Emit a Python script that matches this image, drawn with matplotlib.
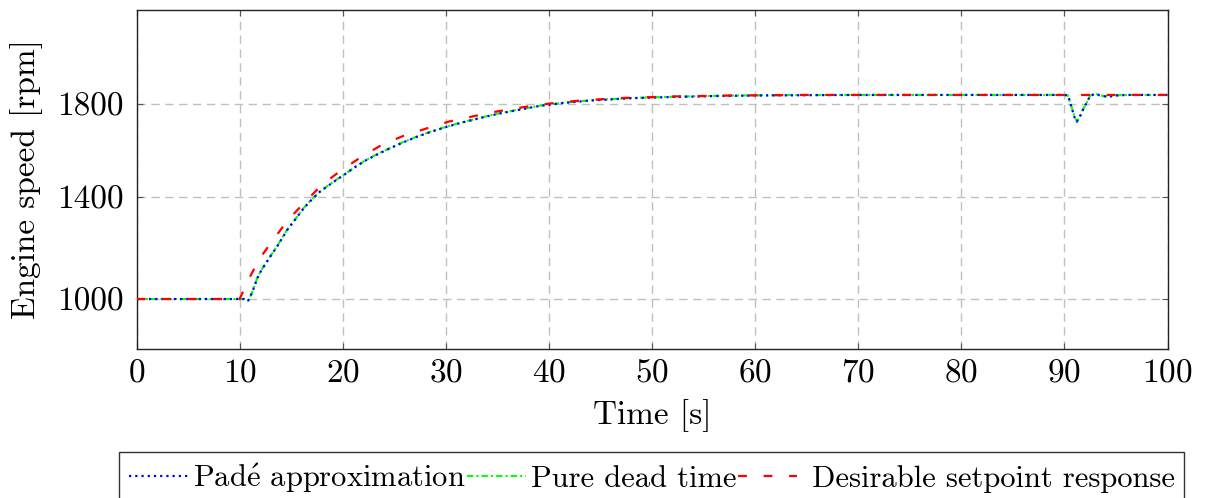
import matplotlib
matplotlib.use("Agg")
import matplotlib.pyplot as plt

plt.rcParams['font.family'] = ['cmr10', 'DejaVu Serif']
plt.rcParams['mathtext.fontset'] = 'cm'
plt.rcParams['axes.formatter.use_mathtext'] = True

# Padé approximation
t_pade = [0, 10.5, 10.8, 11.0, 11.3, 11.7, 12.1, 12.9, 13.7, 14.6, 15.4, 16.2, 17.0, 17.8,
          19.0, 20.1, 21.2, 22.3, 23.5, 24.6, 25.8, 27.2, 28.6, 30.1, 31.4, 32.7, 34.0,
          35.3, 37.0, 39.1, 41.5, 44.0, 47.9, 52.0, 56.6, 61.0, 65.3, 70, 80, 90.0,
          90.35, 90.7, 91.0, 91.2, 91.45, 91.7, 92.2, 92.5, 93.0, 93.6, 94.2, 95.1, 96.0, 100]
n_pade = [1000, 1000, 992, 1005, 1035, 1080, 1112, 1162, 1210, 1270, 1312, 1355, 1390, 1421,
          1456, 1486, 1517, 1545, 1570, 1591, 1613, 1636, 1656, 1675, 1690, 1703, 1716,
          1728, 1741, 1757, 1769, 1778, 1787, 1792, 1796, 1798, 1799, 1800, 1800, 1800,
          1798, 1750, 1710, 1695, 1710, 1734, 1773, 1797, 1804, 1796, 1793, 1798, 1800, 1800]

# Pure dead time (overlaps the Padé curve)
t_dead = list(t_pade)
n_dead = [1000, 1000, 993, 1006, 1036, 1081, 1113, 1163, 1211, 1271, 1313, 1356, 1391, 1422,
          1457, 1487, 1518, 1546, 1571, 1592, 1614, 1637, 1657, 1676, 1691, 1704, 1717,
          1729, 1742, 1758, 1770, 1779, 1788, 1793, 1797, 1799, 1800, 1800, 1800, 1800,
          1798, 1752, 1712, 1697, 1711, 1735, 1774, 1798, 1805, 1797, 1794, 1799, 1800, 1800]

# Desirable setpoint response
t_ref = [0, 10.0, 10.4, 10.84, 11.98, 13.24, 14.69, 16.34, 17.96, 19.9, 21.84, 23.78, 25.85,
         28.15, 30.24, 32.51, 34.77, 37.5, 40, 43, 47, 52, 58, 65, 75, 100]
n_ref = [1000, 1000, 1035, 1075, 1161, 1231, 1310, 1380, 1447, 1506, 1558, 1604, 1639,
         1669, 1695, 1715, 1734, 1752, 1766, 1778, 1788, 1794, 1798, 1800, 1800, 1800]

ytick_pos = [1000, 1400, 1765]
ytick_labels = ['1000', '1400', '1800']
xticks = [0, 10, 20, 30, 40, 50, 60, 70, 80, 90, 100]

FS = 24

fig = plt.figure(figsize=(12.07, 4.98), dpi=100)
ax = fig.add_axes([0.1131, 0.2992, 0.8542, 0.6807])

ax.plot(t_dead, n_dead, color='#00ff00', lw=1.5, linestyle=(0, (3, 1.5, 1, 1.5)),
        label='Pure dead time', zorder=3)
ax.plot(t_pade, n_pade, color='blue', lw=1.6, linestyle=(0, (1, 1.8)),
        label=r'Pad$\acute{\mathrm{e}}$ approximation', zorder=4)
ax.plot(t_ref, n_ref, color='red', lw=1.6, linestyle=(0, (4, 7.5)),
        label=' Desirable setpoint response', zorder=5)

ax.set_xlim(0, 100)
ax.set_ylim(804, 2133)
ax.set_xticks(xticks)
ax.set_yticks(ytick_pos)
ax.set_yticklabels(ytick_labels)
ax.grid(True, color='#c0c0c0', linestyle=(0, (6, 4)), lw=1)
ax.tick_params(direction='in', length=4, width=0.8, color='#555555', labelsize=FS,
               top=True, right=True)
ax.tick_params(axis='x', pad=7)
ax.tick_params(axis='y', pad=9)
for s in ax.spines.values():
    s.set_linewidth(1)
    s.set_color('#222222')

ax.set_xlabel('Time [s]', fontsize=FS, labelpad=8)
ax.set_ylabel('Engine speed [rpm]', fontsize=FS, labelpad=10)

h, l = ax.get_legend_handles_labels()
order = [1, 0, 2]
leg = fig.legend([h[i] for i in order], [l[i] for i in order],
                 loc='lower center', bbox_to_anchor=(0.540, -0.012), ncol=3, fontsize=22,
                 frameon=True, fancybox=False, edgecolor='#333333', framealpha=1,
                 handlelength=1.95, handletextpad=0.15, columnspacing=0.05,
                 borderpad=0.3, borderaxespad=0.0)
leg.get_frame().set_linewidth(1)

fig.savefig('out.png', dpi=100)
